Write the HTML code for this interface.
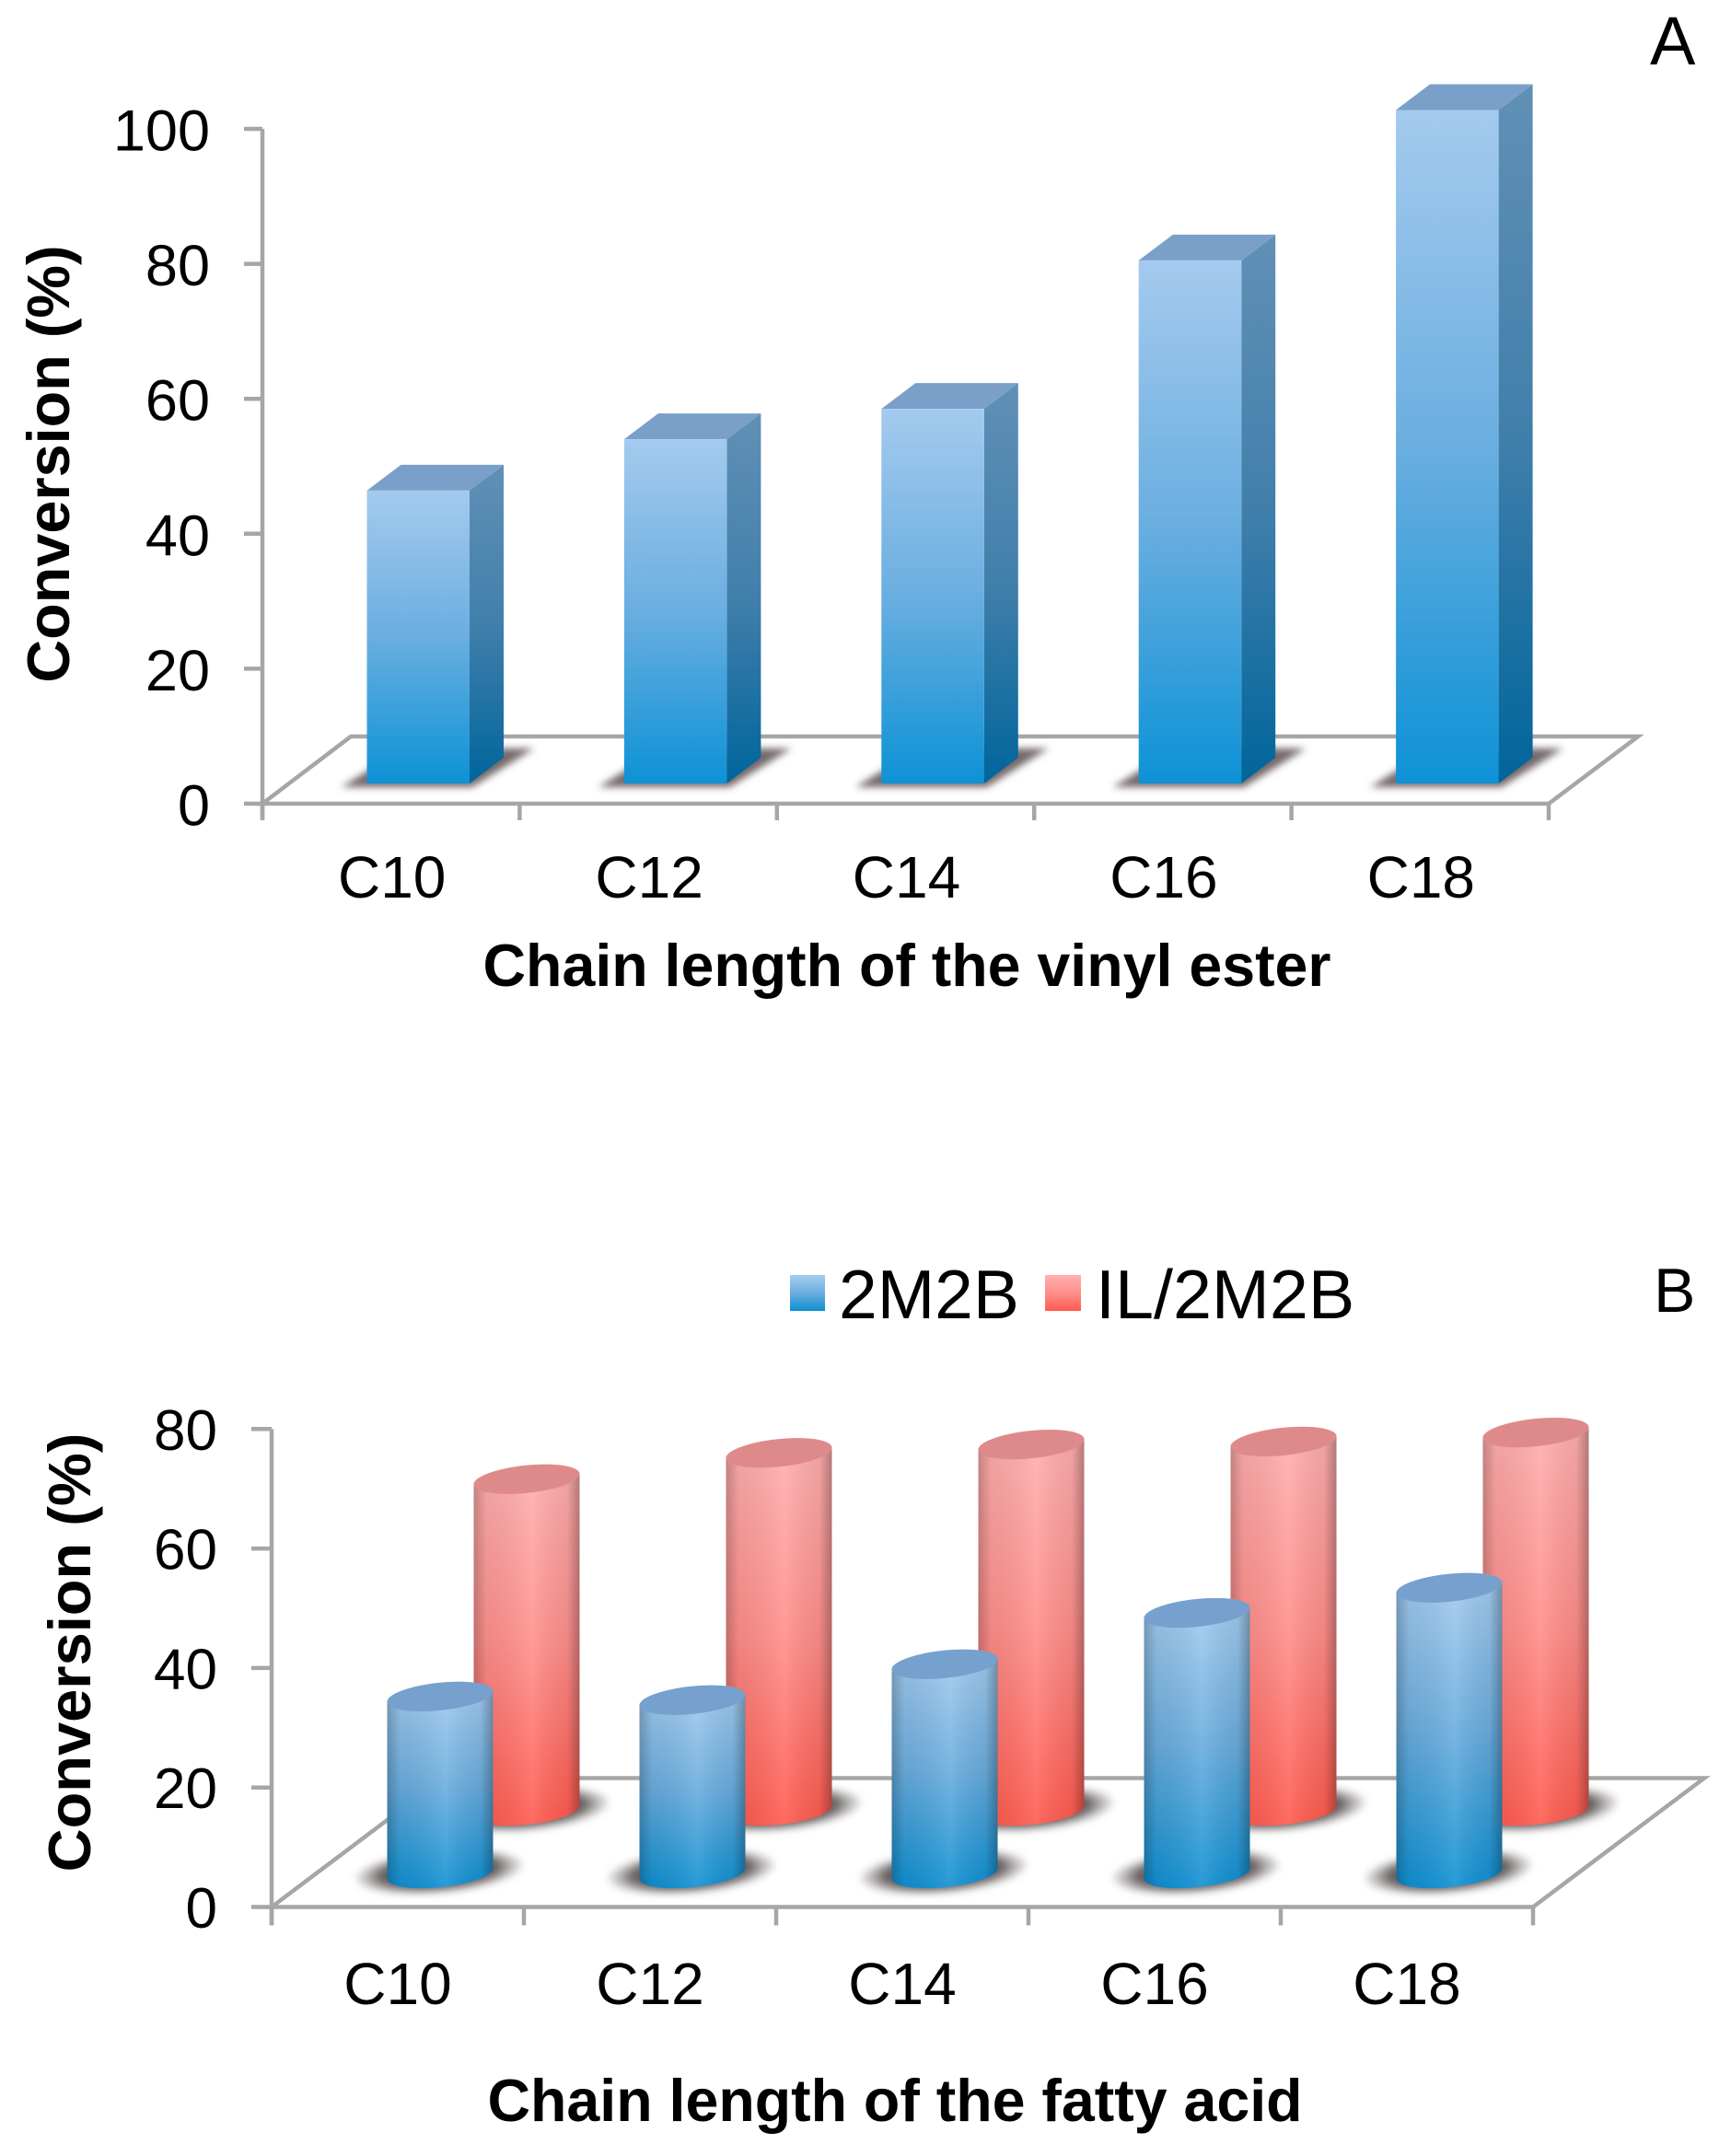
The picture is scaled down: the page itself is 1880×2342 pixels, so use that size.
<!DOCTYPE html>
<html lang="en">
<head>
<meta charset="utf-8">
<title>Conversion by chain length</title>
<style>
html,body{margin:0;padding:0;background:#fff;}
svg{display:block;font-family:"Liberation Sans",sans-serif;}
</style>
</head>
<body>
<svg id="fig" xmlns="http://www.w3.org/2000/svg" width="1880" height="2342" viewBox="0 0 1880 2342">
<defs>
<linearGradient id="bf" x1="0" y1="0" x2="0" y2="1"><stop offset="0" stop-color="#a4caee"/><stop offset=".5" stop-color="#6aaee0"/><stop offset="1" stop-color="#0d92d6"/></linearGradient>
<linearGradient id="bs" x1="0" y1="0" x2="0" y2="1"><stop offset="0" stop-color="#6190b6"/><stop offset=".5" stop-color="#417fab"/><stop offset="1" stop-color="#00659c"/></linearGradient>
<linearGradient id="rf" x1="0" y1="0" x2="0" y2="1"><stop offset="0" stop-color="#ffb0b0"/><stop offset=".5" stop-color="#ff8f8c"/><stop offset="1" stop-color="#ff5a4e"/></linearGradient>
<linearGradient id="cb" x1="0" y1="0" x2="0" y2="1"><stop offset="0" stop-color="#a6cdf0"/><stop offset=".5" stop-color="#6badde"/><stop offset="1" stop-color="#0e90d2"/></linearGradient>
<linearGradient id="edge" x1="0" y1="0" x2="1" y2="0"><stop offset="0" stop-color="#000" stop-opacity=".24"/><stop offset=".12" stop-color="#000" stop-opacity=".06"/><stop offset=".55" stop-color="#fff" stop-opacity=".1"/><stop offset=".88" stop-color="#000" stop-opacity=".06"/><stop offset="1" stop-color="#000" stop-opacity=".3"/></linearGradient>
<radialGradient id="shadowFill"><stop offset="0" stop-color="#5a5252"/><stop offset=".7" stop-color="#6a6262"/><stop offset="1" stop-color="#9a9494" stop-opacity=".2"/></radialGradient>
<filter id="soft" x="-20%" y="-40%" width="140%" height="180%"><feGaussianBlur stdDeviation="4"/></filter>
</defs>

<text x="1792" y="70" font-size="74" fill="#000">A</text>
<text transform="translate(75 504) rotate(-90)" text-anchor="middle" font-size="64.8" font-weight="700" fill="#000">Conversion (%)</text>
<text x="985" y="1071" text-anchor="middle" font-size="64.5" font-weight="700" fill="#000">Chain length of the vinyl ester</text>

<text x="1796" y="1425" font-size="68" fill="#000">B</text>
<text transform="translate(98 1795) rotate(-90)" text-anchor="middle" font-size="65" font-weight="700" fill="#000">Conversion (%)</text>
<text x="972" y="2304" text-anchor="middle" font-size="64.5" font-weight="700" fill="#000">Chain length of the fatty acid</text>

<g>
<rect x="858" y="1385" width="38" height="39" fill="url(#cb)"/>
<text x="911" y="1432" font-size="75" fill="#000">2M2B</text>
<rect x="1135" y="1385" width="39" height="39" fill="url(#rf)"/>
<text x="1190" y="1432" font-size="75.5" fill="#000">IL/2M2B</text>
</g>
<g id="chartA"></g>
<g id="chartB"></g>
</svg>

<script>
// Panel A data
const categoriesA = ['C10', 'C12', 'C14', 'C16', 'C18'];
const valuesA = [43.4, 51, 55.5, 77.5, 99.8];
const ticksA = [0, 20, 40, 60, 80, 100];

// Panel B data
const categoriesB = ['C10', 'C12', 'C14', 'C16', 'C18'];
const values2M2B = [29.6, 29, 35, 43.6, 47.8];
const valuesIL = [55.5, 59.9, 61.3, 61.8, 63.3];
const ticksB = [0, 20, 40, 60, 80];

const NS = 'http://www.w3.org/2000/svg';
const AXIS = '#a6a6a6';
const AXW = 4.5;
function mk(parent, tag, props) {
  const e = document.createElementNS(NS, tag);
  for (const k in props) e.setAttribute(k, props[k]);
  parent.appendChild(e);
  return e;
}

// ---------- Panel A ----------
(function () {
  const g = document.getElementById('chartA');
  const x0 = 285, step = 279.4, floorY = 873, baseY = 851, unit = 7.33, dx = 37, dy = 28, bw = 111.5;
  const yAxis = v => floorY - v * unit;
  const xBand = i => x0 + i * step;
  const barH = v => v * unit;

  const xEnd = xBand(categoriesA.length);
  const floor = mk(g, 'path', {d: `M${x0} ${floorY} L${x0 + 96} ${floorY - 73} L${xEnd + 97} ${floorY - 73} L${xEnd} ${floorY} Z`, fill: 'none', stroke: AXIS, 'stroke-width': AXW});
  
  

  const yLine = mk(g, 'line', {x1: x0, y1: yAxis(100), x2: x0, y2: floorY + 18, stroke: AXIS, 'stroke-width': AXW});
  
  

  ticksA.forEach(t => {
    const l = mk(g, 'line', {x1: x0 - 20, y1: yAxis(t), x2: x0, y2: yAxis(t), stroke: AXIS, 'stroke-width': AXW});
    
    
    const tx = mk(g, 'text', {x: 228, y: yAxis(t) + 23.5, 'text-anchor': 'end', 'font-size': 63, fill: '#000'});
    tx.textContent = t;
    
    
  });

  for (let i = 0; i <= categoriesA.length; i++) {
    const l = mk(g, 'line', {x1: xBand(i), y1: floorY, x2: xBand(i), y2: floorY + 18, stroke: AXIS, 'stroke-width': AXW});
    
    
  }

  categoriesA.forEach((c, i) => {
    const tx = mk(g, 'text', {x: xBand(i) + step / 2 + 1, y: 975, 'text-anchor': 'middle', 'font-size': 64, fill: '#000'});
    tx.textContent = c;
    
    

    const L = xBand(i) + 113.5, R = L + bw, top = baseY - barH(valuesA[i]);

    const sh = mk(g, 'polygon', {points: `${L - 28},${baseY + 4} ${R + 3},${baseY + 4} ${R + 70},${baseY - 38} ${L + 40},${baseY - 38}`, fill: '#75696a', filter: 'url(#soft)'});
    
    

    const side = mk(g, 'polygon', {points: `${R},${top} ${R + dx},${top - dy} ${R + dx},${baseY - dy} ${R},${baseY}`, fill: 'url(#bs)'});
    
    

    const cap = mk(g, 'polygon', {points: `${L},${top} ${L + dx},${top - dy} ${R + dx},${top - dy} ${R},${top}`, fill: '#7aa0ca'});
    
    

    const bar = mk(g, 'rect', {x: L, y: top, width: bw, height: barH(valuesA[i]), fill: 'url(#bf)'});
    
    
  });
})();

// ---------- Panel B ----------
(function () {
  const g = document.getElementById('chartB');
  const x0 = 295, step = 274, floorY = 2071.5, unit = 6.49, r = 57.5, ry = 15, tilt = 6;
  const yAxis = v => floorY - v * unit;
  const xBand = i => x0 + i * step;
  const barH = v => v * unit;
  const xEnd = xBand(categoriesB.length);

  const floor = mk(g, 'path', {d: `M${x0} ${floorY} L${x0 + 186} ${floorY - 140} L${xEnd + 186} ${floorY - 140} L${xEnd} ${floorY} Z`, fill: 'none', stroke: AXIS, 'stroke-width': AXW});
  
  

  const yLine = mk(g, 'line', {x1: x0, y1: yAxis(80), x2: x0, y2: floorY + 20, stroke: AXIS, 'stroke-width': AXW});
  
  

  ticksB.forEach(t => {
    const l = mk(g, 'line', {x1: x0 - 22, y1: yAxis(t), x2: x0, y2: yAxis(t), stroke: AXIS, 'stroke-width': AXW});
    
    
    const tx = mk(g, 'text', {x: 236, y: yAxis(t) + 22.5, 'text-anchor': 'end', 'font-size': 62, fill: '#000'});
    tx.textContent = t;
    
    
  });

  for (let i = 0; i <= categoriesB.length; i++) {
    const l = mk(g, 'line', {x1: xBand(i), y1: floorY, x2: xBand(i), y2: floorY + 20, stroke: AXIS, 'stroke-width': AXW});
    
    
  }

  categoriesB.forEach((c, i) => {
    const tx = mk(g, 'text', {x: xBand(i) + step / 2, y: 2177, 'text-anchor': 'middle', 'font-size': 64, fill: '#000'});
    tx.textContent = c;
    
    
  });

  function cylinder(cx, baseY, v, fill, capFill, name) {
    const top = baseY - barH(v);
    const sh = mk(g, 'ellipse', {cx: cx - 1, cy: baseY - 2, rx: 91, ry: 24, fill: 'url(#shadowFill)', transform: `rotate(-5 ${cx} ${baseY})`, filter: 'url(#soft)'});
    
    

    const d = `M${cx - r} ${top + tilt} L${cx - r} ${baseY + tilt} A${r} ${ry} -6 0 0 ${cx + r} ${baseY - tilt} L${cx + r} ${top - tilt} A${r} ${ry} -6 0 0 ${cx - r} ${top + tilt} Z`;
    const body = mk(g, 'path', {d: d, fill: fill});
    
    
    const shade = mk(g, 'path', {d: d, fill: 'url(#edge)'});
    
    
    const cap = mk(g, 'ellipse', {cx: cx, cy: top, rx: r + 0.3, ry: ry, fill: capFill, transform: `rotate(-6 ${cx} ${top})`});
    
    
  }

  categoriesB.forEach((c, i) => {
    cylinder(xBand(i) + 277, 1967, valuesIL[i], 'url(#rf)', '#df8a8a', 'panel-b-il-2m2b-' + c.toLowerCase());
  });
  categoriesB.forEach((c, i) => {
    cylinder(xBand(i) + 183, 2035, values2M2B[i], 'url(#cb)', '#76a0cd', 'panel-b-2m2b-' + c.toLowerCase());
  });
})();
</script>
</body>
</html>
